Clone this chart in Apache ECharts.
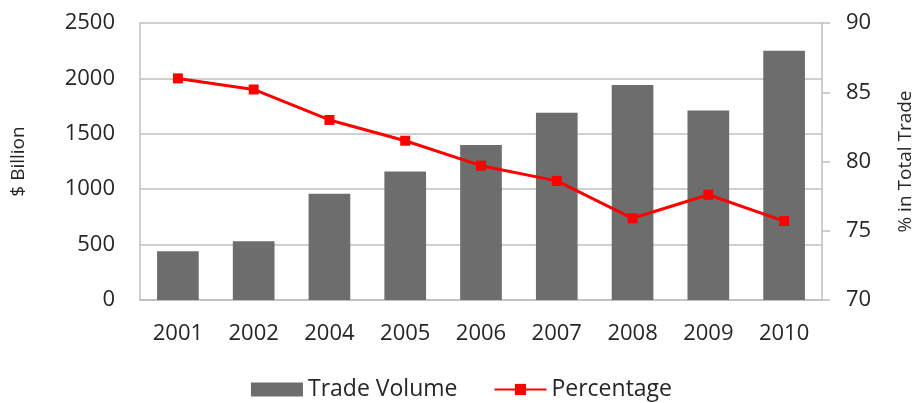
<!DOCTYPE html>
<html><head><meta charset="utf-8">
<script src="https://cdn.jsdelivr.net/npm/echarts@6/dist/echarts.min.js"></script>
<style>html,body{margin:0;padding:0;background:#fff}#c{width:923px;height:403px}</style>
</head><body><div id="c"></div>
<script>
const categories = ['2001','2002','2004','2005','2006','2007','2008','2009','2010'];
const tradeVolume = [440, 530, 960, 1160, 1400, 1690, 1940, 1710, 2250];
const percentage = [86.0, 85.2, 83.0, 81.5, 79.7, 78.6, 75.9, 77.6, 75.7];

const chart = echarts.init(document.getElementById('c'));
const font = 'Open Sans';
const txt = '#262626';
chart.setOption({
  animation: false,
  textStyle: { fontFamily: font },
  grid: { left: 140, right: 96, top: 23, bottom: 103 },
  legend: {
    bottom: -3, left: 'center', itemGap: 36,
    textStyle: { fontSize: 23, color: txt, fontFamily: font },
    data: [
      { name: 'Trade Volume', icon: 'rect', itemStyle: { color: '#6d6d6d' } },
      { name: 'Percentage' }
    ],
    itemWidth: 52, itemHeight: 14
  },
  xAxis: {
    type: 'category', data: categories,
    axisLine: { lineStyle: { color: '#bfbfbf', width: 1.5 } },
    axisTick: { show: false },
    axisLabel: { fontSize: 22, color: txt, margin: 23, fontFamily: font }
  },
  yAxis: [
    {
      type: 'value', min: 0, max: 2500, interval: 500,
      name: '$ Billion', nameLocation: 'middle', nameGap: 112, nameRotate: 90,
      nameTextStyle: { fontSize: 19, color: txt, fontFamily: font },
      axisLine: { show: true, lineStyle: { color: '#bfbfbf', width: 1.5 } },
      axisTick: { show: false },
      splitLine: { lineStyle: { color: '#bfbfbf', width: 1.5 } },
      axisLabel: { fontSize: 22, color: txt, margin: 25, fontFamily: font, formatter: v => String(v) }
    },
    {
      type: 'value', min: 70, max: 90, interval: 5, position: 'right',
      name: '% in Total Trade', nameLocation: 'middle', nameGap: 74, nameRotate: 90,
      nameTextStyle: { fontSize: 19, color: txt, fontFamily: font },
      axisLine: { show: true, lineStyle: { color: '#bfbfbf', width: 1.5 } },
      axisTick: { show: true, length: 8, lineStyle: { color: '#bfbfbf', width: 1.5 } },
      splitLine: { show: false },
      axisLabel: { fontSize: 22, color: txt, margin: 24, fontFamily: font }
    }
  ],
  series: [
    {
      name: 'Trade Volume', type: 'bar', data: tradeVolume, barWidth: '55%',
      itemStyle: { color: '#6d6d6d' }
    },
    {
      name: 'Percentage', type: 'line', yAxisIndex: 1, data: percentage,
      symbol: 'rect', symbolSize: 10,
      lineStyle: { color: '#ff0000', width: 3 },
      itemStyle: { color: '#ff0000' }
    }
  ]
});
</script></body></html>
